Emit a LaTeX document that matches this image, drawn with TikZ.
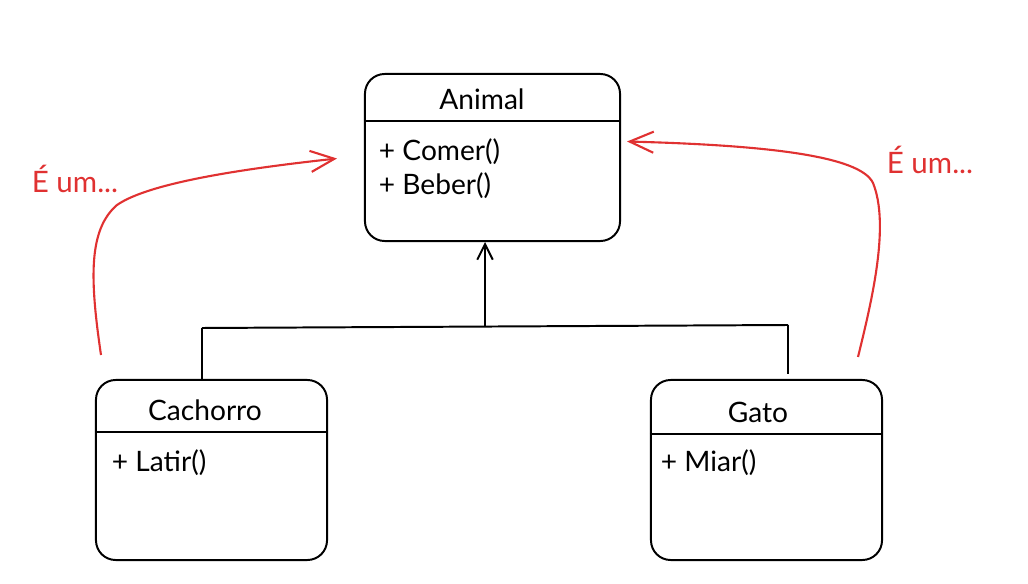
\documentclass[tikz,border=0pt]{standalone}
\usepackage{fontspec}
\setmainfont{Lato}
\usetikzlibrary{calc}
\usetikzlibrary{arrows.meta}

\definecolor{exred}{HTML}{E03131}

\tikzset{
  classbox/.style={draw, line width=1.4pt, rounded corners=14pt, inner sep=0pt},
  title/.style={font=\fontsize{20}{24}\selectfont},
  member/.style={anchor=west, font=\fontsize{20}{24}\selectfont},
  isa/.style={exred, line width=1.5pt, -{Straight Barb[length=17pt, width=15pt, line width=1.5pt]}},
}

\begin{document}
\begin{tikzpicture} [x=0.025cm, y=-0.025cm]
\useasboundingbox (0,0) rectangle (1028,584);

% classes
\node[classbox, minimum width=6.375cm, minimum height=4.175cm] (animal) at (492.5,157.5) {};
\node[classbox, minimum width=5.775cm, minimum height=4.5cm] (cachorro) at (211.5,470) {};
\node[classbox, minimum width=5.775cm, minimum height=4.5cm] (gato) at (766.5,470) {};

\draw[line width=1.4pt] ($(animal.north west)+(0,48)$) -- ($(animal.north east)+(0,48)$);
\draw[line width=1.4pt] ($(cachorro.north west)+(0,53)$) -- ($(cachorro.north east)+(0,53)$);
\draw[line width=1.4pt] ($(gato.north west)+(0,55)$) -- ($(gato.north east)+(0,55)$);

\node[title] (animalname) at (482,99) {Animal};
\node[member] (comer) at (374,152) {+ Comer()};
\node[member] (beber) at (374,186) {+ Beber()};

\node[title] (cachorroname) at (205,410) {Cachorro};
\node[member] (latir) at (107,463) {+ Latir()};

\node[title] (gatoname) at (758,412) {Gato};
\node[member] (miar) at (656,463) {+ Miar()};

% inheritance
\coordinate (join) at (485,326);
\coordinate (joinl) at (202,328);
\coordinate (joinr) at (788,325);
\draw[line width=1.4pt] (joinl) -- (joinr);
\draw[line width=1.4pt] (joinl) -- (joinl |- cachorro.north);
\draw[line width=1.4pt] (joinr) -- ($(joinr |- gato.north)+(0,-5)$);
\draw[line width=1.4pt, -{Straight Barb[length=11pt, width=11pt, line width=1.4pt]}] (join) -- (join |- animal.south);

% red notes
\coordinate (leftfoot) at (101,355);
\coordinate (leftbend) at (117,205);
\coordinate (rightfoot) at (858,357);
\coordinate (rightbend) at (873,183);
\draw[isa] (leftfoot) .. controls (90,280) and (88,230) .. (leftbend)
  .. controls (150,182) and (250,168) .. ($(animal.west)+(-27,1)$);
\draw[isa] (rightfoot) .. controls (872,300) and (890,225) .. (rightbend)
  .. controls (860,155) and (760,145) .. ($(animal.east)+(6,-16)$);

\node[exred, font=\fontsize{21}{24}\selectfont] (leftnote) at (75,179) {É um...};
\node[exred, font=\fontsize{21}{24}\selectfont] (rightnote) at (930,160) {É um...};

\end{tikzpicture}
\end{document}
